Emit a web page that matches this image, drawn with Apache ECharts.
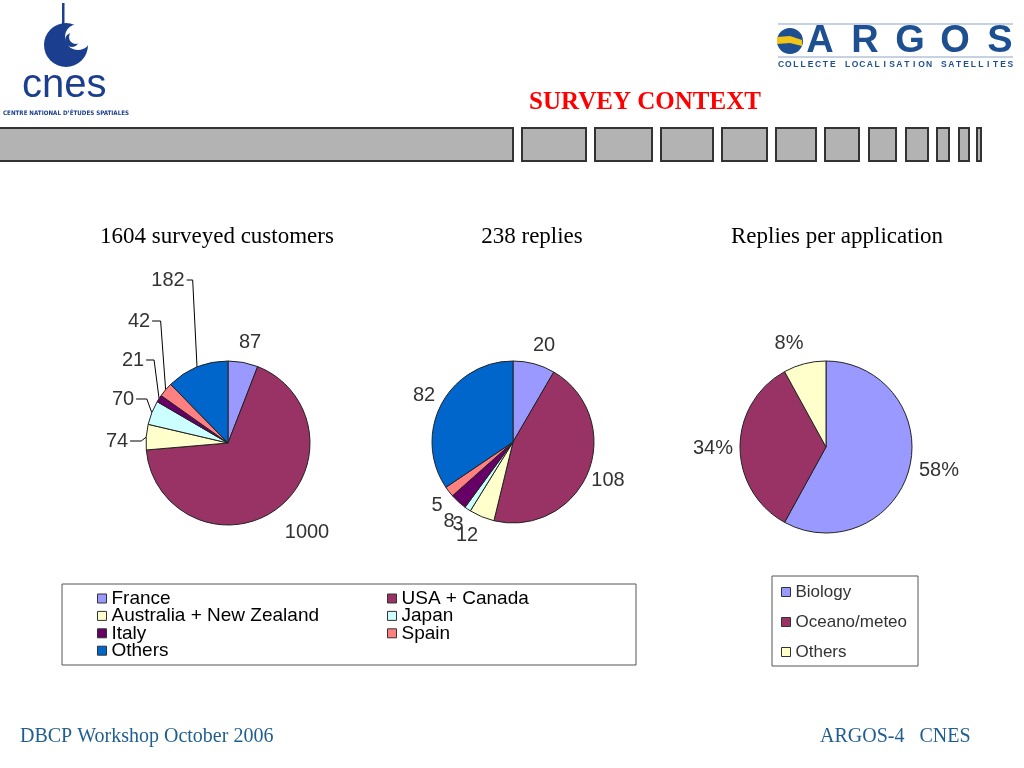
<!DOCTYPE html>
<html><head><meta charset="utf-8">
<script src="https://cdn.jsdelivr.net/npm/echarts@6/dist/echarts.min.js"></script>
<style>html,body{margin:0;padding:0;background:#fff}#c{width:1024px;height:768px}</style>
</head><body><div id="c"></div><script>
// ---- data ----
const COUNTRIES = ['France','USA + Canada','Australia + New Zealand','Japan','Italy','Spain','Others'];
const SURVEYED = [87, 1000, 74, 70, 21, 42, 182];
const REPLIES = [20, 108, 12, 3, 8, 5, 82];
const APPLICATIONS = ['Biology','Oceano/meteo','Others'];
const APP_SHARE = [58, 34, 8];
const PANEL_TITLES = ['1604 surveyed customers','238 replies','Replies per application'];

// ---- styles ----
const COUNTRY_COLORS = ['#9999FF','#993366','#FFFFCC','#CCFFFF','#660066','#FF8080','#0066CC'];
const APP_COLORS = ['#9999FF','#993366','#FFFFCC'];
const LABEL_FONT = {fontFamily:'Liberation Sans, Arial, sans-serif', fontSize:20, color:'#333'};
// label anchor positions (text centres) per pie
const LABEL_POS = [
  [[250,342],[307,532],[117,441],[123,399],[133,360],[139,321],[168,280]],
  [[544,345],[608,480],[467,535],[458,524],[449,521],[437,505],[424,395]],
  [[939,470],[713,448],[789,343]]
];
const APP_KEYS = APPLICATIONS.map(n => n === 'Others' ? 'Others ' : n);

function makeLayout(si) {
  return function (p) {
    const pos = LABEL_POS[si][p.dataIndex];
    const res = {x: pos[0], y: pos[1], align: 'center', verticalAlign: 'middle'};
    if (si === 0 && p.dataIndex >= 2 && p.labelLinePoints) {
      const edge = p.labelLinePoints[0];
      const right = pos[0] + p.labelRect.width / 2 + 2;
      const cx = Math.max(right + 6, edge[0] - 5);
      res.labelLinePoints = [[edge[0], edge[1]], [cx, pos[1]], [right, pos[1]]];
    }
    return res;
  };
}

const chart = echarts.init(document.getElementById('c'), null, {renderer: 'canvas'});

// decorative header strip
const STRIP = [[-2,513],[522,586],[595,652],[661,713],[722,767],[776,816],[825,859],[869,896],[906,928],[937,949],[959,969],[977,981]];
const graphics = STRIP.map(s => ({type:'rect', shape:{x:s[0], y:128, width:s[1]-s[0], height:33}, style:{fill:'#b3b3b3', stroke:'#333', lineWidth:2}, silent:true}));

// CNES logo
const CNES_BLUE = '#1b3f8e';
graphics.push(
  {type:'rect', shape:{x:62, y:3, width:2.5, height:26}, style:{fill:CNES_BLUE}},
  {type:'circle', shape:{cx:66, cy:45, r:22}, style:{fill:CNES_BLUE}},
  {type:'circle', shape:{cx:78, cy:37, r:13}, style:{fill:'#fff'}},
  {type:'circle', shape:{cx:72, cy:40, r:7}, style:{fill:CNES_BLUE}},
  {type:'circle', shape:{cx:76, cy:37, r:7}, style:{fill:'#fff'}},
  {type:'text', x:22, y:106, style:{text:'cnes', fill:CNES_BLUE, font:'40px "Liberation Sans", Arial, sans-serif', verticalAlign:'bottom'}},
  {type:'text', x:3, y:113, style:{text:'CENTRE NATIONAL D\u2019ÉTUDES SPATIALES', fill:CNES_BLUE, font:'bold 6.2px "DejaVu Sans Condensed", "Liberation Sans", sans-serif', verticalAlign:'middle'}}
);

// ARGOS logo
const ARGOS_BLUE = '#1d4f91';
graphics.push(
  {type:'line', shape:{x1:778, y1:24, x2:1013, y2:24}, style:{stroke:'#8da3c4', lineWidth:1}},
  {type:'line', shape:{x1:778, y1:57, x2:1013, y2:57}, style:{stroke:'#8da3c4', lineWidth:1}},
  {type:'circle', shape:{cx:790, cy:41, r:13}, style:{fill:ARGOS_BLUE}},
  {type:'polygon', shape:{points:[[777,37],[790,36],[802,40],[802,46],[790,43],[777,44]]}, style:{fill:'#f2c418'}}
);
['A','R','G','O','S'].forEach((ch, i) => {
  graphics.push({type:'text', x:820 + i*45, y:42, style:{text:ch, fill:ARGOS_BLUE, font:'bold 38px "Liberation Sans", Arial, sans-serif', align:'center', verticalAlign:'middle'}});
});
'COLLECTE LOCALISATION SATELLITES'.split('').forEach((ch, i) => {
  graphics.push({type:'text', x:781 + i*7.4, y:65, style:{text:ch, fill:ARGOS_BLUE, font:'bold 8.5px "Liberation Sans Narrow", "Liberation Sans", sans-serif', align:'center', verticalAlign:'middle'}});
});

// legend boxes
graphics.push(
  {type:'rect', shape:{x:62, y:584, width:574, height:81}, style:{fill:'none', stroke:'#555', lineWidth:1}},
  {type:'rect', shape:{x:772, y:576, width:146, height:90}, style:{fill:'none', stroke:'#555', lineWidth:1}}
);

const titleBase = {padding:0, textAlign:'center', textStyle:{fontFamily:'Liberation Serif, Times New Roman, serif', fontSize:23, fontWeight:'normal', color:'#000'}};
const pieCommon = {
  type:'pie', startAngle:90, clockwise:true, avoidLabelOverlap:false,
  itemStyle:{borderColor:'#222', borderWidth:1},
  label:Object.assign({show:true, formatter:'{c}'}, LABEL_FONT),
  labelLine:{show:false, lineStyle:{color:'#000', width:1}},
  emphasis:{disabled:true}, animation:false
};

const legendCommon = {
  orient:'vertical', icon:'rect', itemWidth:9, itemHeight:9, padding:0,
  itemStyle:{borderColor:'#333', borderWidth:1}, selectedMode:false
};
const legendText1 = {fontFamily:'Liberation Sans, Arial, sans-serif', fontSize:19, color:'#000', lineHeight:18};

const option = {
  backgroundColor:'#fff',
  animation:false,
  title:[
    Object.assign({}, titleBase, {text:PANEL_TITLES[0], left:217, top:225}),
    Object.assign({}, titleBase, {text:PANEL_TITLES[1], left:532, top:225}),
    Object.assign({}, titleBase, {text:PANEL_TITLES[2], left:837, top:225}),
    {text:'SURVEY CONTEXT', left:645, top:90, padding:0, textAlign:'center', textStyle:{fontFamily:'Liberation Serif, Times New Roman, serif', fontSize:25, fontWeight:'bold', color:'#ff0000'}},
    {text:'DBCP Workshop October 2006', left:20, top:727, padding:0, textStyle:{fontFamily:'Liberation Serif, Times New Roman, serif', fontSize:20, fontWeight:'normal', color:'#1f5e8e'}},
    {text:'ARGOS-4   CNES', left:820, top:727, padding:0, textStyle:{fontFamily:'Liberation Serif, Times New Roman, serif', fontSize:20, fontWeight:'normal', color:'#1f5e8e'}}
  ],
  legend:[
    Object.assign({}, legendCommon, {data:[COUNTRIES[0],COUNTRIES[2],COUNTRIES[4],COUNTRIES[6]], left:97, top:589, itemGap:-1.6, textStyle:legendText1}),
    Object.assign({}, legendCommon, {data:[COUNTRIES[1],COUNTRIES[3],COUNTRIES[5]], left:387, top:589, itemGap:-1.6, textStyle:legendText1}),
    Object.assign({}, legendCommon, {data:APP_KEYS, left:781, top:582, itemGap:10, formatter:n => n.trim(),
      textStyle:{fontFamily:'Liberation Sans, Arial, sans-serif', fontSize:17, color:'#333', lineHeight:20}})
  ],
  series:[
    Object.assign({}, pieCommon, {
      name:'Surveyed', center:[228,443], radius:82, labelLayout:makeLayout(0),
      labelLine:{show:true, length:5, length2:5, lineStyle:{color:'#000', width:1}},
      data:COUNTRIES.map((n,i) => ({name:n, value:SURVEYED[i], itemStyle:{color:COUNTRY_COLORS[i]}, labelLine:{show:i >= 2}}))
    }),
    Object.assign({}, pieCommon, {
      name:'Replies', center:[513,442], radius:81, labelLayout:makeLayout(1),
      data:COUNTRIES.map((n,i) => ({name:n, value:REPLIES[i], itemStyle:{color:COUNTRY_COLORS[i]}}))
    }),
    Object.assign({}, pieCommon, {
      name:'Applications', center:[826,447], radius:86, labelLayout:makeLayout(2),
      label:Object.assign({show:true, formatter:'{c}%'}, LABEL_FONT),
      data:APP_KEYS.map((n,i) => ({name:n, value:APP_SHARE[i], itemStyle:{color:APP_COLORS[i]}}))
    })
  ],
  graphic:{elements:graphics}
};
chart.setOption(option);
</script></body></html>
